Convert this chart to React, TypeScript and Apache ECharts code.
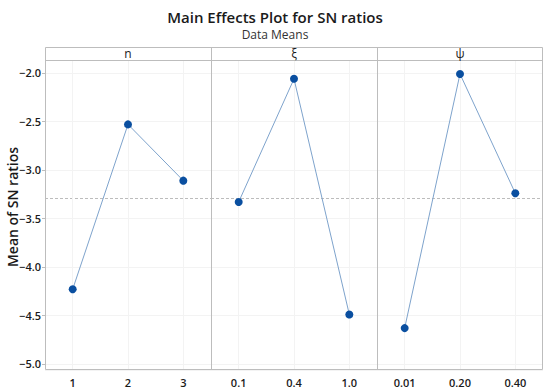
import React, { useEffect, useRef } from "react";
import * as echarts from "echarts";

const panelNames = ["n", "ξ", "ψ"];
const nLevels = ["1", "2", "3"];
const xiLevels = ["0.1", "0.4", "1.0"];
const psiLevels = ["0.01", "0.20", "0.40"];
const nMeans = [-4.23, -2.53, -3.11];
const xiMeans = [-3.33, -2.06, -4.49];
const psiMeans = [-4.63, -2.01, -3.24];
const grandMean = -3.29;
const yMin = -5.062;
const yMax = -1.866;

const levels = [nLevels, xiLevels, psiLevels];
const means = [nMeans, xiMeans, psiMeans];

const FONT = "'Open Sans', 'Noto Sans', sans-serif";

export default function App() {
  const ref = useRef<HTMLDivElement>(null);
  useEffect(() => {
    if (!ref.current) return;
    const chart = echarts.init(ref.current, null, { renderer: "svg" });
    const left0 = 45;
    const right0 = 543;
    const top = 60;
    const bottom = 370;
    const pw = (right0 - left0) / 3;
    const grids = [0, 1, 2].map((i) => ({
      left: left0 + pw * i,
      top: top,
      width: pw,
      height: bottom - top,
      show: false,
    }));
    const xAxes = [0, 1, 2].map((i) => ({
      type: "category",
      gridIndex: i,
      data: levels[i],
      boundaryGap: true,
      axisLine: { show: false },
      axisTick: { show: false },
      splitLine: { show: false },
      axisLabel: {
        color: "#1a1a1a",
        fontSize: 11,
        fontWeight: 600,
        fontFamily: FONT,
        margin: 7,
      },
    }));
    const yAxes = [0, 1, 2].map((i) => ({
      type: "value",
      gridIndex: i,
      min: yMin,
      max: yMax,
      splitNumber: 5,
      axisLine: { show: false },
      axisTick: {
        show: i === 0,
        length: 3,
        lineStyle: { color: "#bdbdbd" },
      },
      splitLine: { show: true, lineStyle: { color: "#f3f3f3", width: 1 } },
      axisLabel: {
        show: i === 0,
        showMinLabel: false,
        showMaxLabel: false,
        color: "#1a1a1a",
        fontSize: 11,
        fontWeight: 600,
        fontFamily: FONT,
        margin: 4,
        formatter: (v: number) => v.toFixed(1).replace("-", "\u2212"),
      },
    }));
    const series = [0, 1, 2].map((i) => ({
      type: "line",
      xAxisIndex: i,
      yAxisIndex: i,
      data: means[i],
      symbol: "circle",
      symbolSize: 8,
      clip: false,
      itemStyle: { color: "#0a4fa0" },
      lineStyle: { color: "#7ea3cc", width: 1 },
      z: 5,
      markLine: {
        silent: true,
        symbol: "none",
        label: { show: false },
        animation: false,
        data: [
          {
            yAxis: grandMean,
            lineStyle: { color: "#bcbcbc", type: [3, 2], width: 1 },
          },
          ...levels[i].map((c) => ({
            xAxis: c,
            lineStyle: { color: "#f3f3f3", type: "solid", width: 1 },
          })),
        ],
      },
    }));
    const bx = left0 + 0.5;
    const strip: any[] = [
      {
        type: "rect",
        shape: { x: bx, y: 47.5, width: right0 - left0 - 1, height: bottom - 47 - 1 },
        style: { fill: "none", stroke: "#bdbdbd", lineWidth: 1 },
        z: 10,
      },
      {
        type: "line",
        shape: { x1: bx, y1: top + 0.5, x2: right0 - 0.5, y2: top + 0.5 },
        style: { stroke: "#bdbdbd", lineWidth: 1 },
        z: 10,
      },
      {
        type: "text",
        x: 12,
        y: 207,
        rotation: Math.PI / 2,
        style: {
          text: "Mean of SN ratios",
          fill: "#1a1a1a",
          font: `600 14px ${FONT}`,
          align: "center",
          verticalAlign: "middle",
        },
        z: 10,
      },
    ];
    [0, 1, 2].forEach((i) => {
      if (i > 0) {
        const x = Math.round(left0 + pw * i) + 0.5;
        strip.push({
          type: "line",
          shape: { x1: x, y1: 47.5, x2: x, y2: bottom - 0.5 },
          style: { stroke: "#bdbdbd", lineWidth: 1 },
          z: 11,
        });
      }
      strip.push({
        type: "text",
        x: left0 + pw * i + pw / 2,
        y: 53.5,
        style: {
          text: panelNames[i],
          fill: "#1a1a1a",
          font: `12px ${FONT}`,
          align: "center",
          verticalAlign: "middle",
        },
        z: 11,
      });
    });
    chart.setOption({
      animation: false,
      backgroundColor: "#ffffff",
      title: [
        {
          text: "Main Effects Plot for SN ratios",
          left: "center",
          top: 4,
          textStyle: {
            fontFamily: FONT,
            fontSize: 15,
            fontWeight: 600,
            color: "#1a1a1a",
          },
        },
        {
          text: "Data Means",
          left: "center",
          top: 23,
          textStyle: {
            fontFamily: FONT,
            fontSize: 12,
            fontWeight: 400,
            color: "#333333",
          },
        },
      ],
      grid: grids,
      xAxis: xAxes,
      yAxis: yAxes,
      series: series,
      graphic: strip,
    });
    return () => chart.dispose();
  }, []);
  return <div ref={ref} style={{ width: 550, height: 392, position: "absolute", left: 0, top: 0 }} />;
}
